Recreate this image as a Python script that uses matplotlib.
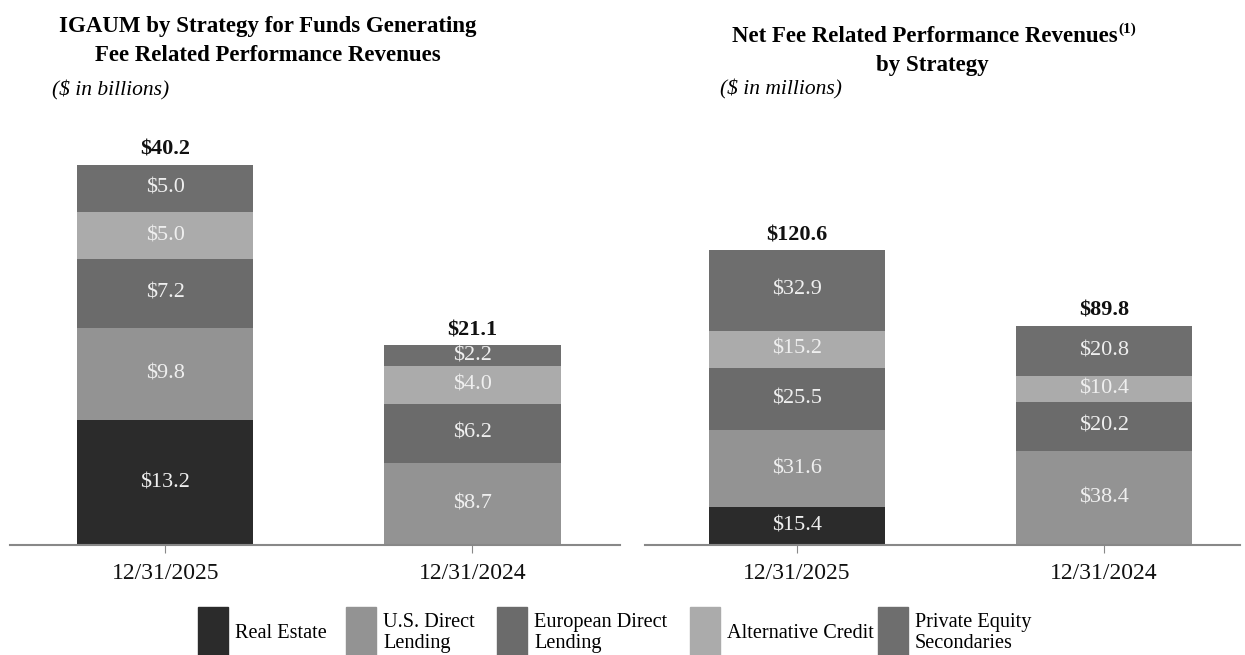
import matplotlib.pyplot as plt
from matplotlib.patches import Rectangle

plt.rcParams['font.family'] = ['Liberation Serif', 'DejaVu Serif']

dates = ['12/31/2025', '12/31/2024']
strategies = ['Real Estate', 'U.S. Direct\nLending', 'European Direct\nLending',
              'Alternative Credit', 'Private Equity\nSecondaries']
colors = ['#2b2b2b', '#939393', '#6b6b6b', '#ababab', '#6e6e6e']

# IGAUM ($ in billions), one list per strategy: [2025, 2024]
igaum_real_estate = [13.2, 0.0]
igaum_us_direct = [9.8, 8.7]
igaum_euro_direct = [7.2, 6.2]
igaum_alt_credit = [5.0, 4.0]
igaum_pe_secondaries = [5.0, 2.2]
igaum_totals = [40.2, 21.1]

# Net FRPR ($ in millions)
frpr_real_estate = [15.4, 0.0]
frpr_us_direct = [31.6, 38.4]
frpr_euro_direct = [25.5, 20.2]
frpr_alt_credit = [15.2, 10.4]
frpr_pe_secondaries = [32.9, 20.8]
frpr_totals = [120.6, 89.8]

igaum = [igaum_real_estate, igaum_us_direct, igaum_euro_direct, igaum_alt_credit, igaum_pe_secondaries]
frpr = [frpr_real_estate, frpr_us_direct, frpr_euro_direct, frpr_alt_credit, frpr_pe_secondaries]

fig = plt.figure(figsize=(12.45, 6.55), dpi=100)
ax1 = fig.add_axes([10 / 1245, 110 / 655, 610 / 1245, 435 / 655])
ax2 = fig.add_axes([645 / 1245, 110 / 655, 595 / 1245, 435 / 655])


def draw(ax, series, totals, ymax, xlim):
    x = [0, 1]
    bottom = [0.0, 0.0]
    for vals, c in zip(series, colors):
        ax.bar(x, vals, 0.573, bottom=bottom, color=c, edgecolor='none')
        for i, v in enumerate(vals):
            if v > 0:
                ax.text(x[i], bottom[i] + v / 2, f'${v:.1f}', ha='center', va='center',
                        color='#efefef', fontsize=16)
        bottom = [b + v for b, v in zip(bottom, vals)]
    for i, t in enumerate(totals):
        ax.text(x[i], t + ymax * 0.012, f'${t:.1f}', ha='center', va='bottom',
                fontsize=16, fontweight='bold', color='#111111')
    ax.set_ylim(0, ymax)
    ax.set_xlim(*xlim)
    ax.set_xticks(x)
    ax.set_xticklabels(dates, fontsize=17)
    for s in ['top', 'right', 'left']:
        ax.spines[s].set_visible(False)
    ax.spines['bottom'].set_color('#888888')
    ax.spines['bottom'].set_linewidth(1.5)
    ax.set_yticks([])
    ax.tick_params(axis='x', length=6, color='#888888', pad=7, labelcolor='#111111')


draw(ax1, igaum, igaum_totals, 46.0, (-0.505, 1.48))
draw(ax2, frpr, frpr_totals, 178.0, (-0.495, 1.443))

fig.text(268 / 1245, 1 - 41 / 655, 'IGAUM by Strategy for Funds Generating\nFee Related Performance Revenues',
         ha='center', va='center', fontsize=16.5, fontweight='bold', linespacing=1.45)
fig.text(52 / 1245, 1 - 90 / 655, '($ in billions)', ha='left', va='center', fontsize=15.5, style='italic')
t1 = fig.text(925 / 1245, 1 - 36 / 655, 'Net Fee Related Performance Revenues',
              ha='center', va='center', fontsize=16.5, fontweight='bold')
fig.text(932 / 1245, 1 - 65 / 655, 'by Strategy',
         ha='center', va='center', fontsize=16.5, fontweight='bold')
fig.canvas.draw()
bb = t1.get_window_extent().transformed(fig.transFigure.inverted())
fig.text(bb.x1 + 1 / 1245, bb.y1 + 3 / 655, '(1)', ha='left', va='top', fontsize=11, fontweight='bold')
fig.text(720 / 1245, 1 - 89 / 655, '($ in millions)', ha='left', va='center', fontsize=15.5, style='italic')

# legend
patch_x = [198, 346, 497, 690, 878]
for px, name, c in zip(patch_x, strategies, colors):
    fig.patches.append(Rectangle((px / 1245, 0), 30 / 1245, 48 / 655, transform=fig.transFigure,
                                 color=c, clip_on=False))
    fig.text((px + 37) / 1245, 1 - 633 / 655, name, ha='left', va='center', fontsize=14.6,
             linespacing=1.2)

fig.savefig('out.png', dpi=100)
